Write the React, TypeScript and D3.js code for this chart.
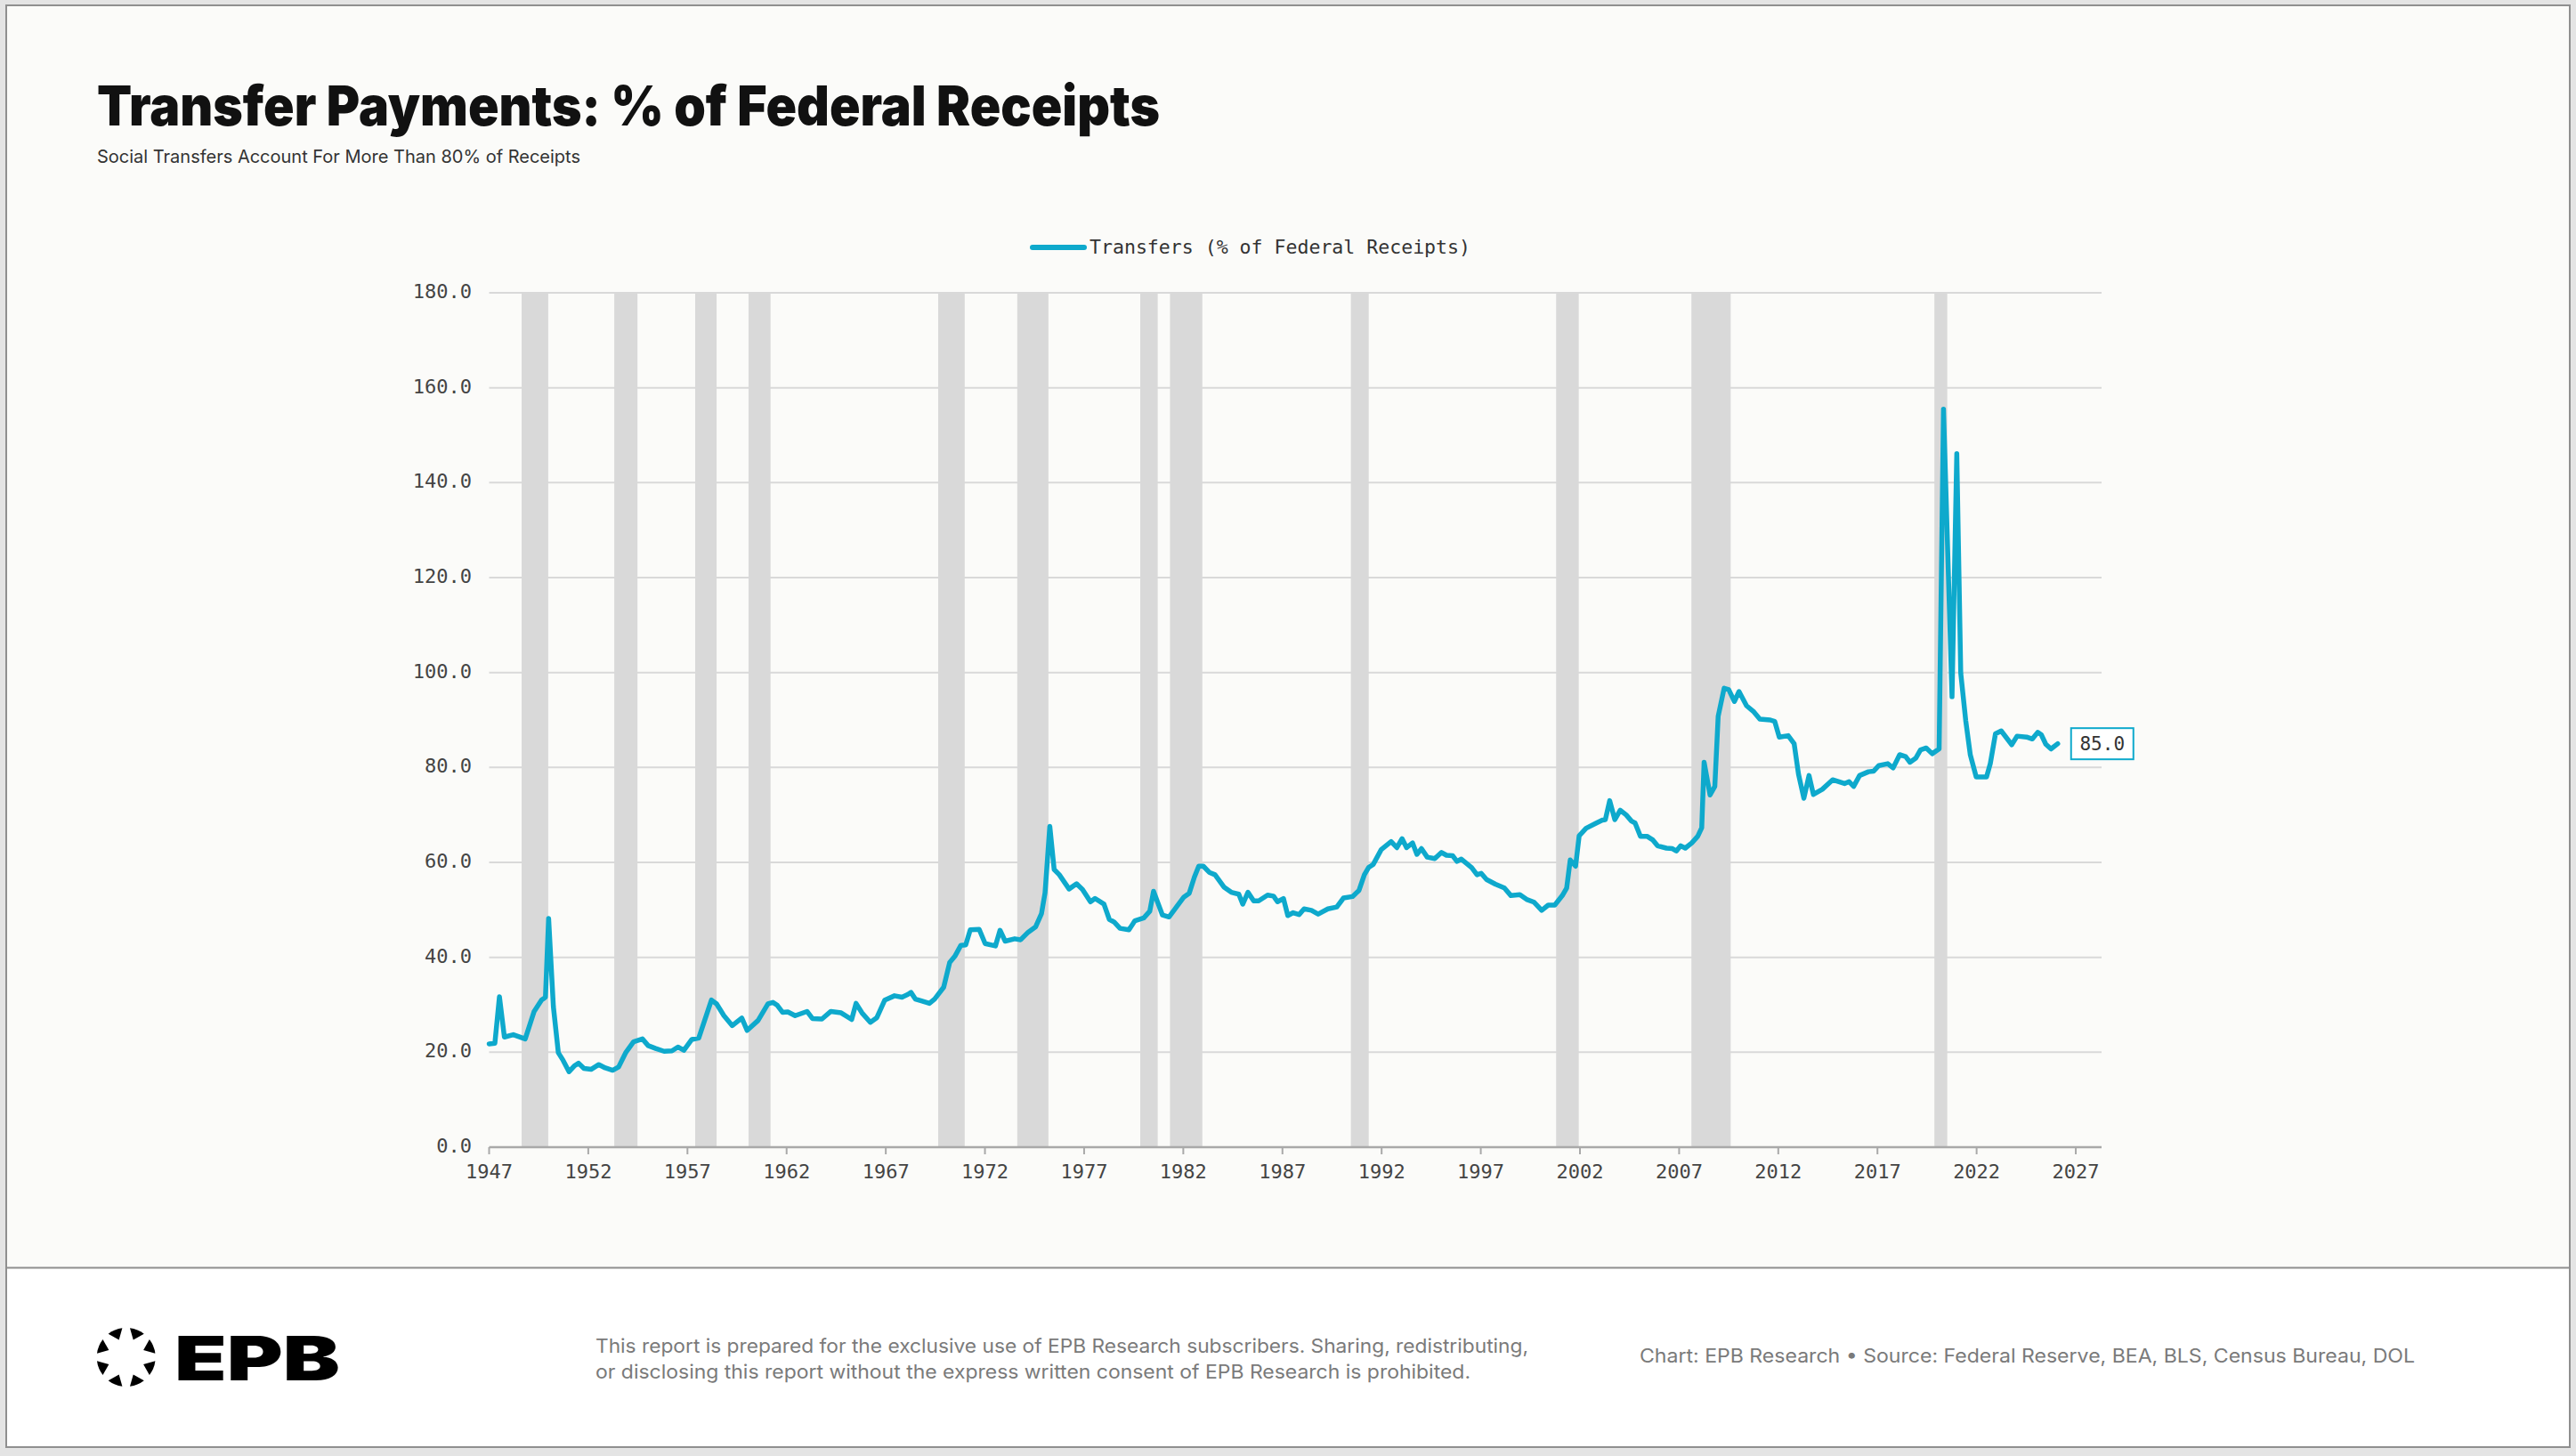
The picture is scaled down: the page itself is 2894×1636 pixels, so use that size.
import * as d3 from "d3"

const quarters = [
  1947.0, 1947.29, 1947.52, 1947.77, 1948.22, 1948.82, 1949.27, 1949.64, 1949.84, 1950.0,
  1950.24, 1950.49, 1950.73, 1951.03, 1951.29, 1951.51, 1951.78, 1952.14, 1952.53, 1952.86,
  1953.23, 1953.53, 1953.9, 1954.28, 1954.73, 1955.02, 1955.4, 1955.82, 1956.22, 1956.52,
  1956.82, 1957.22, 1957.57, 1958.21, 1958.47, 1958.84, 1959.26, 1959.74, 1960.01, 1960.56,
  1961.06, 1961.31, 1961.53, 1961.8, 1962.06, 1962.43, 1963.03, 1963.3, 1963.78, 1964.23,
  1964.75, 1965.28, 1965.5, 1965.8, 1966.22, 1966.55, 1966.95, 1967.44, 1967.82, 1968.12,
  1968.27, 1968.49, 1968.8, 1969.2, 1969.46, 1969.92, 1970.22, 1970.48, 1970.78, 1971.03,
  1971.26, 1971.71, 1972.01, 1972.53, 1972.76, 1973.02, 1973.5, 1973.8, 1974.18, 1974.55,
  1974.85, 1975.03, 1975.27, 1975.49, 1975.75, 1976.24, 1976.62, 1976.92, 1977.32, 1977.55,
  1978.0, 1978.27, 1978.52, 1978.81, 1979.26, 1979.56, 1980.01, 1980.31, 1980.5, 1980.95,
  1981.28, 1981.58, 1982.03, 1982.3, 1982.56, 1982.78, 1983.01, 1983.31, 1983.6, 1984.05,
  1984.42, 1984.8, 1985.0, 1985.26, 1985.55, 1985.8, 1986.25, 1986.55, 1986.75, 1987.05,
  1987.27, 1987.54, 1987.84, 1988.09, 1988.46, 1988.8, 1989.29, 1989.74, 1990.08, 1990.53,
  1990.86, 1991.13, 1991.34, 1991.58, 1991.98, 1992.48, 1992.77, 1993.03, 1993.26, 1993.56,
  1993.78, 1994.01, 1994.3, 1994.68, 1995.02, 1995.27, 1995.58, 1995.8, 1996.02, 1996.54,
  1996.81, 1997.02, 1997.29, 1997.74, 1998.19, 1998.52, 1998.97, 1999.31, 1999.69, 2000.07,
  2000.4, 2000.73, 2001.11, 2001.33, 2001.51, 2001.78, 2001.96, 2002.31, 2002.83, 2003.13,
  2003.28, 2003.5, 2003.76, 2004.03, 2004.33, 2004.6, 2004.78, 2005.05, 2005.38, 2005.68,
  2005.91, 2006.36, 2006.66, 2006.86, 2007.08, 2007.31, 2007.64, 2007.94, 2008.14, 2008.26,
  2008.56, 2008.8, 2008.97, 2009.27, 2009.5, 2009.79, 2010.02, 2010.4, 2010.77, 2011.07,
  2011.6, 2011.82, 2012.05, 2012.5, 2012.8, 2013.02, 2013.29, 2013.55, 2013.77, 2014.22,
  2014.74, 2015.34, 2015.57, 2015.8, 2016.1, 2016.55, 2016.8, 2017.07, 2017.52, 2017.79,
  2018.12, 2018.42, 2018.64, 2018.94, 2019.17, 2019.46, 2019.76, 2020.11, 2020.33, 2020.76,
  2021.0, 2021.2, 2021.45, 2021.68, 2021.98, 2022.5, 2022.69, 2022.95, 2023.24, 2023.77,
  2024.04, 2024.52, 2024.81, 2025.08, 2025.26, 2025.49, 2025.75, 2026.09,
]

const transfers = [
  21.75, 21.9, 31.7, 23.2, 23.7, 22.8, 28.6, 31.0, 31.6, 48.2,
  29.6, 19.9, 18.3, 15.9, 17.1, 17.7, 16.6, 16.4, 17.4, 16.7,
  16.2, 16.9, 20.0, 22.2, 22.8, 21.4, 20.8, 20.2, 20.3, 21.1,
  20.4, 22.7, 23.0, 31.0, 30.2, 27.7, 25.6, 27.2, 24.6, 26.7,
  30.2, 30.5, 29.9, 28.4, 28.5, 27.7, 28.6, 27.1, 27.0, 28.6,
  28.3, 26.9, 30.3, 28.3, 26.3, 27.3, 31.0, 31.9, 31.6, 32.2,
  32.6, 31.2, 30.8, 30.3, 31.2, 33.7, 38.9, 40.2, 42.5, 42.6,
  45.8, 45.9, 42.9, 42.4, 45.7, 43.4, 43.9, 43.7, 45.3, 46.4,
  49.2, 53.6, 67.6, 58.5, 57.4, 54.4, 55.5, 54.3, 51.7, 52.4,
  51.2, 48.0, 47.4, 46.1, 45.8, 47.7, 48.3, 49.7, 53.9, 48.9,
  48.5, 50.2, 52.7, 53.5, 56.9, 59.2, 59.2, 57.9, 57.4, 54.8,
  53.7, 53.3, 51.2, 53.7, 51.9, 51.9, 53.1, 52.9, 51.7, 52.4,
  48.8, 49.4, 49.0, 50.2, 49.9, 49.1, 50.2, 50.6, 52.5, 52.8,
  54.1, 57.4, 58.9, 59.6, 62.7, 64.4, 63.1, 65.0, 63.1, 64.1,
  61.7, 62.9, 61.1, 60.8, 62.1, 61.5, 61.4, 60.2, 60.7, 58.9,
  57.4, 57.7, 56.4, 55.4, 54.6, 53.0, 53.2, 52.2, 51.6, 49.9,
  51.0, 51.0, 53.0, 54.6, 60.5, 59.2, 65.6, 67.2, 68.3, 68.9,
  69.0, 73.0, 69.0, 71.0, 70.0, 68.7, 68.3, 65.5, 65.5, 64.7,
  63.5, 63.0, 62.9, 62.4, 63.5, 63.0, 64.1, 65.5, 67.3, 81.1,
  74.2, 76.0, 90.8, 96.7, 96.4, 93.9, 96.0, 93.0, 91.7, 90.2,
  90.0, 89.7, 86.4, 86.7, 85.0, 78.6, 73.5, 78.3, 74.3, 75.4,
  77.4, 76.6, 77.0, 76.0, 78.3, 79.1, 79.2, 80.4, 80.8, 79.9,
  82.7, 82.3, 81.1, 82.0, 83.7, 84.1, 82.9, 83.9, 155.5, 94.9,
  146.1, 99.9, 89.9, 82.7, 78.0, 78.0, 80.8, 87.1, 87.7, 84.8,
  86.6, 86.4, 86.0, 87.4, 86.9, 84.9, 83.9, 85.0,
]

// * Recession shading (decimal years)
const recessionStarts = [1948.64, 1953.31, 1957.39, 1960.08, 1969.64, 1973.63, 1979.83, 1981.33, 1990.45, 2000.8, 2007.62, 2019.87]
const recessionEnds = [1949.98, 1954.48, 1958.47, 1961.19, 1970.98, 1975.2, 1980.71, 1982.96, 1991.35, 2001.94, 2009.6, 2020.52]

const yTicks = [0, 20, 40, 60, 80, 100, 120, 140, 160, 180]
const xTicks = [1947, 1952, 1957, 1962, 1967, 1972, 1977, 1982, 1987, 1992, 1997, 2002, 2007, 2012, 2017, 2022, 2027]

const seriesName = "Transfers (% of Federal Receipts)"
const lastLabel = "85.0"

const W = 2894
const H = 1636
const LINE = "#0ea9cc"
const MONO = "'DejaVu Sans Mono', 'Liberation Mono', monospace"
const SANS = "Inter, 'Noto Sans', Roboto, sans-serif"

export default function App() {
  const x = d3.scaleLinear().domain([1947, 2028.3]).range([549.5, 2361])
  const y = d3.scaleLinear().domain([0, 180]).range([1289, 329])

  const points: [number, number][] = quarters.map((q, i) => [q, transfers[i]])
  const line = d3
    .line<[number, number]>()
    .x((d) => x(d[0]))
    .y((d) => y(d[1]))

  const last = points[points.length - 1]
  const [plotLeft, plotRight] = x.range()

  // * Logo: ring of eight inward-pointing wedges
  const logoCx = 141.7
  const logoCy = 1525
  const wedges = d3.range(8).map((k) => {
    const a = ((22.5 + k * 45) * Math.PI) / 180
    const spread = (15 * Math.PI) / 180
    const pt = (ang: number, r: number) => `${logoCx + r * Math.sin(ang)},${logoCy - r * Math.cos(ang)}`
    return `M${pt(a - spread, 33)} A33,33 0 0 1 ${pt(a + spread, 33)} L${pt(a, 21)} Z`
  })

  return (
    <>
      <style>{`body{margin:0;background:#e4e4e4}`}</style>
      <svg width={W} height={H} style={{ display: "block" }}>
        <rect x={0} y={0} width={W} height={H} fill="#e4e4e4" />
        <rect x={7} y={6} width={2880} height={1420} fill="#fbfbf9" />
        <rect x={7} y={1426} width={2880} height={200} fill="#ffffff" />
        <rect x={7} y={6} width={2880} height={1620} fill="none" stroke="#8f8f8f" strokeWidth={2} />
        <line x1={7} x2={2887} y1={1424.5} y2={1424.5} stroke="#8f8f8f" strokeWidth={2} />

        {/* Title */}
        <text x={109} y={141} fontFamily={SANS} fontWeight={900} fontSize={62} fill="#111" textLength={1194} lengthAdjust="spacingAndGlyphs">
          Transfer Payments: % of Federal Receipts
        </text>
        <text x={109} y={183} fontFamily={SANS} fontSize={20} fill="#333" textLength={543} lengthAdjust="spacingAndGlyphs">
          Social Transfers Account For More Than 80% of Receipts
        </text>

        {/* Legend */}
        <line x1={1160} x2={1218} y1={278} y2={278} stroke={LINE} strokeWidth={6} strokeLinecap="round" />
        <text x={1224} y={279} dominantBaseline="middle" fontFamily={MONO} fontSize={21.5} fill="#333" textLength={428} lengthAdjust="spacingAndGlyphs">
          {seriesName}
        </text>

        {/* Gridlines */}
        {yTicks
          .filter((t) => t > 0)
          .map((t) => (
            <line key={t} x1={plotLeft} x2={plotRight} y1={y(t)} y2={y(t)} stroke="#d9d9d9" strokeWidth={2} />
          ))}

        {/* Recession bands */}
        {recessionStarts.map((s, i) => (
          <rect key={s} x={x(s)} y={y(180)} width={x(recessionEnds[i]) - x(s)} height={y(0) - y(180)} fill="#d9d9d9" />
        ))}

        {/* Y axis labels */}
        {yTicks.map((t) => (
          <text key={t} x={530} y={y(t)} textAnchor="end" dominantBaseline="middle" fontFamily={MONO} fontSize={22} fill="#444">
            {t.toFixed(1)}
          </text>
        ))}

        {/* X axis */}
        <line x1={plotLeft} x2={plotRight} y1={y(0)} y2={y(0)} stroke="#a9a9a9" strokeWidth={2.5} />
        {xTicks.map((t) => (
          <g key={t}>
            <line x1={x(t)} x2={x(t)} y1={y(0)} y2={y(0) + 8} stroke="#a9a9a9" strokeWidth={2} />
            <text x={x(t)} y={1318} textAnchor="middle" dominantBaseline="middle" fontFamily={MONO} fontSize={22} fill="#444">
              {t}
            </text>
          </g>
        ))}

        {/* Series */}
        <path d={line(points) ?? ""} fill="none" stroke={LINE} strokeWidth={5.5} strokeLinejoin="round" strokeLinecap="round" />

        {/* Last value label */}
        <rect x={x(last[0]) + 15} y={y(last[1]) - 17.5} width={70} height={35} fill="#fff" stroke={LINE} strokeWidth={2} />
        <text x={x(last[0]) + 50} y={y(last[1]) + 1} textAnchor="middle" dominantBaseline="middle" fontFamily={MONO} fontSize={21} fill="#333">
          {lastLabel}
        </text>

        {/* Footer */}
        {wedges.map((d, i) => (
          <path key={i} d={d} fill="#000" />
        ))}
        <text x={196} y={1551} fontFamily={SANS} fontWeight={900} fontSize={69} fill="#000" textLength={186} lengthAdjust="spacingAndGlyphs">
          EPB
        </text>
        <text x={669} y={1520} fontFamily={SANS} fontSize={21.5} fill="#7a7a7a" textLength={1048} lengthAdjust="spacingAndGlyphs">
          This report is prepared for the exclusive use of EPB Research subscribers. Sharing, redistributing,
        </text>
        <text x={669} y={1549} fontFamily={SANS} fontSize={21.5} fill="#7a7a7a" textLength={983} lengthAdjust="spacingAndGlyphs">
          or disclosing this report without the express written consent of EPB Research is prohibited.
        </text>
        <text x={1842} y={1531} fontFamily={SANS} fontSize={21.5} fill="#7a7a7a" textLength={871} lengthAdjust="spacingAndGlyphs">
          Chart: EPB Research  •  Source: Federal Reserve, BEA, BLS, Census Bureau, DOL
        </text>
      </svg>
    </>
  )
}
